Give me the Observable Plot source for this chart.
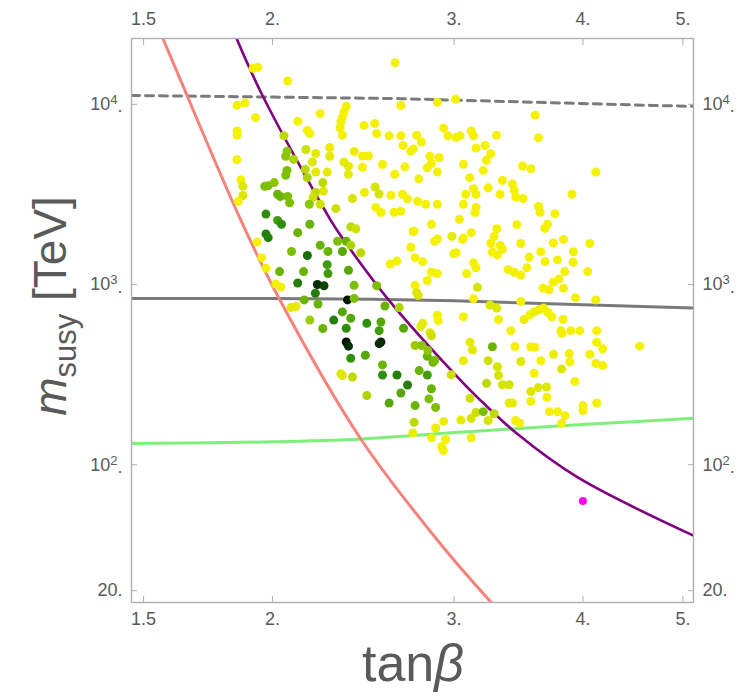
<!DOCTYPE html>
<html><head><meta charset="utf-8">
<script src="https://cdn.jsdelivr.net/npm/d3@7"></script>
<script src="https://cdn.jsdelivr.net/npm/@observablehq/plot@0.6"></script>
<style>body{margin:0;background:#fff;} #chart{width:742px;height:700px;}</style>
</head><body><div id="chart"></div>
<script>
// Axis ticks
const xTicks = [1.5, 2, 3, 4, 5];
const xTickLabels = ["1.5", "2.", "3.", "4.", "5."];
const yTicks = [20, 100, 1000, 10000];
const yTickLabels = ["20.", "10\u00B2.", "10\u00B3.", "10\u2074."];
const xDomain = [1.46, 5.12];
const yDomain = [17.2, 23200];

// Curves [tanβ, m_susy]
const redCurve = [[1.566,23200],[1.619,14800],[1.864,2270],[2.030,836],[2.436,139],[2.912,36.2],[3.26,17.2]];
const purpleCurve = [[1.846,23200],[1.956,11200],[2.278,2270],[2.347,1755],[2.586,836],[3.046,293],[3.184,227],[3.456,148],[3.954,85],[5.12,40.4]];
const greenCurve = [[1.46,131],[2.0,134],[2.44,139],[2.91,149],[3.18,154],[4.0,167],[5.12,181]];
const graySolid = [[1.46,836],[2.0,836],[2.5,828],[3.0,812],[4.0,772],[5.12,740]];
const grayDashed = [[1.46,11200],[2.0,10980],[2.664,10760],[3.5,10310],[4.65,9870],[5.12,9750]];
const magentaPoint = [[4.0,63]];

// Scatter points [tanβ, m_susy, shade 0=yellow .. 1=black]
const scatter = [
[1.915,15850,0],[1.936,16050,0],[2.069,13480,0],[2.630,17040,0],[1.848,9880,0],[1.881,10170,0],[1.926,8440,0],[1.848,7110,0],[1.848,6740,0],[1.848,4930,0],[1.864,3810,0],[1.872,3510,0.15],[1.872,3120,0.15],[1.853,2900,0],
[2.225,8880,0],[2.116,8050,0],[2.162,7170,0],[2.174,6890,0],[2.052,6700,0.3],[2.066,5500,0.45],[2.060,5150,0.45],[2.097,4950,0.35],[2.155,5620,0.25],[2.203,5340,0.1],[2.186,4790,0.15],[2.152,4360,0.3],[2.203,4210,0.1],[2.066,4300,0.5],[2.060,4040,0.5],[2.162,3920,0.35],[2.238,3680,0.3],[2.241,3300,0.15],[2.201,3250,0.3],[2.190,3050,0.25],[2.171,2790,0.45],[2.225,2790,0.25],
[1.966,3510,0.5],[1.981,3540,0.5],[2.008,3680,0.45],[2.023,3170,0.55],[2.035,3080,0.55],[2.069,3080,0.5],[2.078,2840,0.5],[1.971,2460,0.7],[2.023,2270,0.65],[2.041,2160,0.7],[2.116,1940,0.55],[2.174,2160,0.55],[1.971,1910,0.75],[1.981,1820,0.75],
[2.304,2640,0.25],[2.382,2090,0.3],[2.409,2040,0.25],
[2.358,9750,0],[2.346,9050,0],[2.338,8500,0],[2.330,7980,0],[2.326,7420,0],[2.338,6740,0],[2.273,5760,0.05],[2.273,5150,0.1],[2.400,5480,0.05],[2.445,5170,0],[2.478,5170,0],[2.346,4790,0.1],[2.370,4540,0.1],[2.445,4470,0],[2.260,4210,0.1],[2.370,4090,0.1],
[2.454,7640,0],[2.513,7830,0],[2.524,6890,0],[2.595,6690,0],[2.664,6690,0],[2.557,4640,0],[2.515,3480,0.2],[2.537,3180,0.2],[2.456,3250,0.05],[2.391,3000,0.2],[2.519,2680,0],[2.548,2510,0],[2.605,3130,0],[2.624,2520,0],[2.664,2550,0],[2.688,4500,0],[2.628,4090,0],[2.664,9850,0],[2.677,5920,0],[2.724,5500,0],[2.740,5660,0],[2.760,6740,0],[2.789,6180,0],[2.674,3170,0],[2.704,2990,0],[2.773,3860,0],[2.765,2900,0],[2.816,2790,0],
[2.843,5150,0],[2.901,5070,0],[2.826,4440,0],[2.852,4700,0],[2.890,4210,0],[2.890,2790,0],[2.890,10260,0],[3.010,10660,0],[2.931,7380,0],[2.959,6690,0],[3.014,6550,0],[3.040,6690,0],[3.117,7110,0],[3.134,6690,0],[3.063,4650,0],[3.151,5720,0],[3.107,3920,0],[3.079,3170,0],[3.133,3400,0],[3.151,3170,0],[3.063,2790,0],[3.036,2300,0],[3.144,2510,0],[2.985,1850,0.1],[3.063,1810,0],[3.117,1940,0],[2.852,2160,0],[2.744,1980,0],[2.890,1790,0],
[1.932,1720,0],[1.952,1410,0],[1.971,1230,0],[2.015,1006,0],[2.038,968,0],[2.084,745,0.1],[2.108,755,0.1],[2.087,1525,0.5],[2.162,1450,0.8],[2.225,1650,0.55],[2.264,1525,0.55],[2.260,1290,0.65],[2.264,1150,0.65],[2.144,1180,0.55],[2.032,1180,0.55],[2.116,1020,0.75],[2.211,1000,0.95],[2.244,985,0.9],[2.201,895,0.75],[2.147,822,0.55],[2.214,780,0.55],[2.365,822,1],[2.400,838,0.5],[2.400,990,0.5],[2.370,1200,0.6],[2.338,1525,0.6],[2.358,1740,0.55],[2.313,1740,0.5],[2.382,1650,0.35],[2.436,1500,0.3],
[2.338,705,0.6],[2.382,650,0.6],[2.293,635,0.75],[2.174,635,0.4],[2.238,570,0.55],[2.358,572,0.7],[2.469,610,0.7],[2.548,620,0.6],[2.538,555,0.65],[2.524,985,0.5],[2.571,760,0.55],[2.654,745,0.35],[2.680,572,0.6],[2.358,480,1],[2.370,455,0.95],[2.538,470,0.95],[2.548,480,0.95],[2.382,390,0.7],[2.461,405,0.6],[2.330,320,0.15],[2.338,313,0.15],[2.391,307,0.3],[2.557,358,0.55],[2.557,315,0.7],[2.641,315,0.75],[2.704,277,0.75],[2.664,250,0.6],[2.469,242,0.35],[2.595,220,0.6],
[2.750,459,0.4],[2.791,459,0.45],[2.785,585,0.1],[2.797,610,0.1],[2.843,540,0.15],[2.852,520,0.25],[2.826,400,0.55],[2.830,430,0.45],[2.862,370,0.55],[2.873,380,0.5],[2.775,333,0.55],[2.826,315,0.65],[2.852,264,0.55],[2.836,232,0.5],[2.879,208,0.5],[2.750,213,0.55],[2.744,172,0.3],[2.879,160,0.05],[2.931,174,0.05],[3.046,177,0.1],[3.117,181,0.2],[3.151,195,0.25],[3.109,234,0.25],[2.981,316,0.25],[3.063,378,0.05],[3.109,478,0.1],[3.126,433,0.1],[3.063,663,0],[3.133,833,0],[3.085,1150,0],[3.133,1320,0],[3.151,1240,0],[2.826,1053,0],[2.852,1170,0],[2.890,1150,0],[2.750,990,0],[2.760,900,0.15],[2.769,870,0.15],[2.601,1300,0],[2.640,1350,0],[2.724,1610,0],[2.750,1410,0],[2.797,1340,0],[2.738,1970,0],[2.873,1740,0],[3.058,1780,0],[3.014,1500,0],[2.998,1480,0],[2.890,676,0],[2.896,631,0],[2.736,150,0.05],[2.853,141,0],[2.944,138,0],[3.117,141,0],
[3.595,8700,0],[3.622,6520,0],[4.117,4210,0],[3.298,6740,0],[3.215,5920,0],[3.256,5320,0],[3.224,4890,0],[3.202,4300,0],[3.342,3780,0],[3.325,3170,0],[3.237,3440,0],[3.418,3610,0],[3.431,3330,0],[3.444,3060,0],[3.500,3000,0],[3.495,4550,0],[3.561,4390,0],[3.904,3170,0],[3.151,2680,0],[3.452,2150,0],[3.300,2040,0],[3.280,1850,0],[3.256,1690,0],[3.325,1650,0],[3.342,1570,0],[3.268,1510,0],[3.305,1460,0],[3.482,1690,0],[3.622,2710,0],[3.635,2520,0],[3.696,2160,0],[3.674,2050,0],[3.758,2470,0],[3.745,1700,0],[3.830,1780,0],[3.916,1520,0],[3.913,1330,0],[4.062,1690,0],[3.548,1420,0],[3.641,1520,0],[3.676,1340,0],[3.779,1370,0],[3.385,1210,0],[3.431,1170,0],[3.482,1125,0],[3.530,1240,0],[3.841,1180,0],[3.745,1030,0],[3.793,1075,0],[4.043,1180,0],[3.659,955,0],[3.708,935,0],[3.830,955,0],[3.934,845,0],[4.117,822,0],[3.482,805,0],[3.250,770,0.15],[3.300,740,0.15],[3.161,965,0.2],[3.313,640,0],[3.508,640,0.05],[3.553,680,0],[3.587,705,0.05],[3.627,725,0.05],[3.663,740,0],[3.700,700,0],[3.731,663,0],[3.827,640,0],[3.808,555,0],[3.817,535,0],[3.893,555,0],[3.972,555,0],[4.125,555,0],[3.405,555,0],[4.540,455,0],[4.125,478,0],[4.180,440,0],[4.062,410,0],[4.117,365,0],[4.180,355,0],[3.879,414,0],[3.885,372,0],[3.745,410,0.05],[3.641,378,0],[3.561,452,0],[3.593,448,0],[3.437,453,0],[3.482,374,0.15],[3.268,452,0.55],[3.305,350,0.2],[3.313,313,0.2],[3.237,378,0.25],
[3.587,322,0],[3.814,340,0.15],[3.928,290,0],[3.342,278,0.2],[3.393,278,0.2],[3.226,283,0.3],[3.561,255,0.15],[3.620,268,0.15],[3.688,270,0.15],[3.691,237,0],[3.561,225,0],[3.393,220,0.1],[3.418,220,0.1],[4.000,213,0],[4.000,200,0],[4.125,220,0],[3.712,197,0],[3.780,197,0],[3.844,187,0],[3.814,170,0],[3.441,176,0],[3.473,170,0],[3.237,176,0.2],[3.280,192,0.3],[3.202,197,0.5],[2.918,126,0],[2.929,120,0]
];

// Colour gradient stops for the shade value
const shadeStops = [0, 0.25, 0.5, 0.7, 0.85, 1];
const shadeColors = ["#f4f200", "#cde000", "#7cbf00", "#2f8f0c", "#0d5e08", "#001500"];

const frameColor = "#b0b0b0";
const labelColor = "#5a5a5a";
const fontStack = "'Liberation Sans', Arial, sans-serif";
const tickFont = 18;
const fx = d => xTickLabels[xTicks.indexOf(d)];
const fy = d => yTickLabels[yTicks.indexOf(d)];
const P = d => d[0], Q = d => d[1];

const chart = Plot.plot({
  width: 742, height: 700,
  marginTop: 38, marginBottom: 98, marginLeft: 131, marginRight: 49,
  x: {type: "log", domain: xDomain},
  y: {type: "log", domain: yDomain},
  color: {type: "linear", domain: shadeStops, range: shadeColors},
  style: {fontFamily: fontStack, fontSize: tickFont + "px", background: "white"},
  marks: [
    Plot.line(grayDashed, {x: P, y: Q, stroke: "#7a7a7a", strokeWidth: 3, strokeDasharray: "8,6", clip: true}),
    Plot.line(graySolid, {x: P, y: Q, stroke: "#7a7a7a", strokeWidth: 3, clip: true}),
    Plot.line(greenCurve, {x: P, y: Q, stroke: "#7ef07a", strokeWidth: 3, curve: "catmull-rom", clip: true}),
    Plot.line(redCurve, {x: P, y: Q, stroke: "#f5837c", strokeWidth: 3, curve: "catmull-rom", clip: true}),
    Plot.line(purpleCurve, {x: P, y: Q, stroke: "#800080", strokeWidth: 2.6, curve: "catmull-rom", clip: true}),
    Plot.dot(scatter, {x: P, y: Q, fill: d => d[2], r: 4.5, clip: true}),
    Plot.dot(magentaPoint, {x: P, y: Q, fill: "#ff00ff", r: 4}),
    Plot.frame({stroke: frameColor, strokeWidth: 1.4}),
    Plot.axisX({anchor: "bottom", ticks: xTicks, tickFormat: fx, tickSize: -6, tickPadding: 16, fontSize: tickFont, stroke: frameColor, fill: labelColor, label: null}),
    Plot.axisX({anchor: "top", ticks: xTicks, tickFormat: fx, tickSize: -6, tickPadding: 20, fontSize: tickFont, stroke: frameColor, fill: labelColor, label: null}),
    Plot.axisY({anchor: "left", ticks: yTicks, tickFormat: fy, tickSize: -6, tickPadding: 15, fontSize: tickFont, stroke: frameColor, fill: labelColor, label: null}),
    Plot.axisY({anchor: "right", ticks: yTicks, tickFormat: fy, tickSize: -6, tickPadding: 15, fontSize: tickFont, stroke: frameColor, fill: labelColor, label: null})
  ]
});

document.getElementById("chart").appendChild(chart);
const svg = d3.select(chart);
svg.selectAll("g[aria-label$='tick label']").attr("font-size", tickFont).style("font-size", tickFont + "px");
// render superscript powers of ten as raised text
const supMap = {"\u00B2": "2", "\u00B3": "3", "\u2074": "4"};
svg.selectAll("g[aria-label$='tick label'] text").each(function() {
  const t = d3.select(this);
  const s = t.text();
  const m = s.match(/^10(.)\.$/);
  if (m && supMap[m[1]]) {
    t.text("");
    t.append("tspan").text("10");
    t.append("tspan").attr("dy", "-0.45em").style("font-size", "13px").text(supMap[m[1]]);
    t.append("tspan").attr("dy", "0.45em").text(".");
  }
});
// y-axis title
const yt = svg.append("text")
  .attr("transform", "translate(66,306) rotate(-90)")
  .attr("text-anchor", "middle")
  .attr("fill", labelColor)
  .style("font-family", fontStack)
  .style("font-size", "46px");
yt.append("tspan").style("font-style", "italic").text("m");
yt.append("tspan").attr("dy", 10).style("font-size", "31px").text("susy");
yt.append("tspan").attr("dy", -10).text(" [TeV]");
// x-axis title
const xt = svg.append("text")
  .attr("x", 413).attr("y", 681)
  .attr("text-anchor", "middle")
  .attr("fill", labelColor)
  .style("font-family", fontStack)
  .style("font-size", "52px");
xt.append("tspan").text("tan");
xt.append("tspan").style("font-style", "italic").text("\u03B2");
</script></body></html>
